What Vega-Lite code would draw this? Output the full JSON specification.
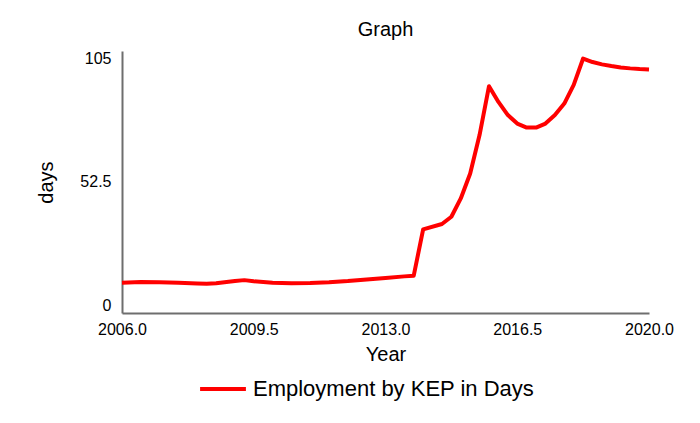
{
  "$schema": "https://vega.github.io/schema/vega-lite/v6.json",
  "width": 527,
  "height": 262,
  "autosize": "none",
  "padding": {"left": 122, "top": 51, "right": 51, "bottom": 110},
  "background": "white",
  "title": {"text": "Graph", "fontSize": 20, "font": "Liberation Sans", "fontWeight": "normal", "color": "black", "offset": 11},
  "config": {
    "view": {"stroke": null},
    "font": "Liberation Sans",
    "axis": {
      "grid": false,
      "ticks": false,
      "domainColor": "#6e6e6e",
      "domainWidth": 2,
      "labelColor": "black",
      "labelFontSize": 16,
      "labelFont": "Liberation Sans",
      "titleFont": "Liberation Sans",
      "titleFontSize": 20,
      "titleFontWeight": "normal",
      "titleColor": "black"
    }
  },
  "data": {
    "values": [
      {"year": 2006.0, "days": 9.5},
      {"year": 2006.5, "days": 9.8},
      {"year": 2007.0, "days": 9.7},
      {"year": 2007.5, "days": 9.5},
      {"year": 2008.0, "days": 9.2},
      {"year": 2008.25, "days": 9.1},
      {"year": 2008.5, "days": 9.3},
      {"year": 2009.0, "days": 10.2},
      {"year": 2009.25, "days": 10.6},
      {"year": 2009.5, "days": 10.1},
      {"year": 2010.0, "days": 9.5},
      {"year": 2010.5, "days": 9.3},
      {"year": 2011.0, "days": 9.4},
      {"year": 2011.5, "days": 9.7},
      {"year": 2012.0, "days": 10.2},
      {"year": 2012.5, "days": 10.9},
      {"year": 2013.0, "days": 11.5},
      {"year": 2013.5, "days": 12.2},
      {"year": 2013.75, "days": 12.5},
      {"year": 2014.0, "days": 32.2},
      {"year": 2014.5, "days": 34.5},
      {"year": 2014.75, "days": 37.6},
      {"year": 2015.0, "days": 45.4},
      {"year": 2015.25, "days": 56.0},
      {"year": 2015.5, "days": 72.5},
      {"year": 2015.75, "days": 93.2},
      {"year": 2016.0, "days": 86.5},
      {"year": 2016.25, "days": 80.9},
      {"year": 2016.5, "days": 77.3},
      {"year": 2016.75, "days": 75.6},
      {"year": 2017.0, "days": 75.6},
      {"year": 2017.25, "days": 77.3},
      {"year": 2017.5, "days": 80.9},
      {"year": 2017.75, "days": 85.8},
      {"year": 2018.0, "days": 93.8},
      {"year": 2018.25, "days": 105.0},
      {"year": 2018.5, "days": 103.5},
      {"year": 2018.75, "days": 102.5},
      {"year": 2019.0, "days": 101.8},
      {"year": 2019.25, "days": 101.2},
      {"year": 2019.5, "days": 100.8},
      {"year": 2019.75, "days": 100.5},
      {"year": 2020.0, "days": 100.3}
    ]
  },
  "mark": {"type": "line", "strokeWidth": 4, "strokeJoin": "round"},
  "encoding": {
    "x": {
      "field": "year",
      "type": "quantitative",
      "title": "Year",
      "scale": {"domain": [2006, 2020], "nice": false, "zero": false},
      "axis": {"values": [2006, 2009.5, 2013, 2016.5, 2020], "format": ".1f", "labelPadding": 8, "titlePadding": 7, "labelFlush": false}
    },
    "y": {
      "field": "days",
      "type": "quantitative",
      "title": "days",
      "scale": {"domain": [-3.4, 108.2], "nice": false, "zero": false},
      "axis": {"values": [0, 52.5, 105], "format": ".1~f", "labelPadding": 11, "titlePadding": 23}
    },
    "stroke": {
      "datum": "Employment by KEP in Days",
      "type": "nominal",
      "scale": {"range": ["#ff0000"]},
      "legend": {
        "title": null,
        "orient": "none",
        "legendX": 76,
        "legendY": 313,
        "padding": 0,
        "symbolType": "stroke",
        "symbolSize": 2100,
        "symbolStrokeWidth": 4,
        "labelFontSize": 22,
        "labelFont": "Liberation Sans",
        "labelColor": "black",
        "labelOffset": 5,
        "labelLimit": 400
      }
    }
  }
}
